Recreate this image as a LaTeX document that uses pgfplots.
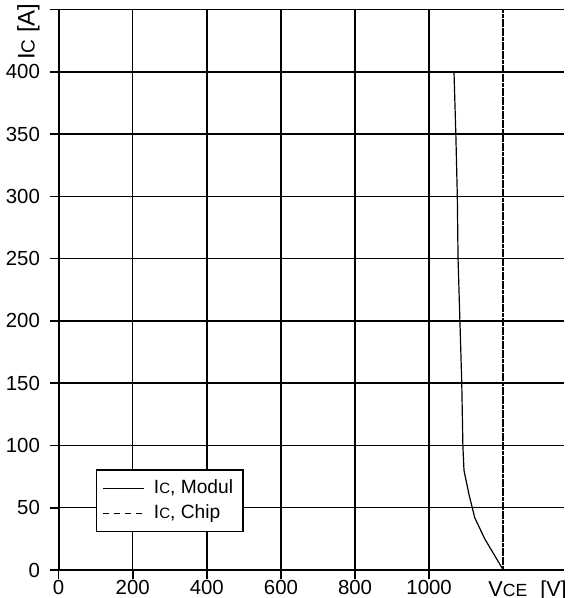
\documentclass[border=0pt]{standalone}
\usepackage{fontspec}
\setmainfont{Liberation Sans}
\usepackage{pgfplots}
\pgfplotsset{compat=1.18}
\begin{document}
\begin{tikzpicture}
\path[use as bounding box] (-29.3pt,-14pt) rectangle (256.2pt,285pt);
\begin{axis}[
  at={(0,0)}, anchor=south west,
  scale only axis,
  width=252.9pt, height=280.25pt,
  xmin=0, xmax=1365, ymin=0, ymax=450,
  axis lines=left,
  axis line style={-, line width=1pt},
  xtick={0,200,400,600,800,1000},
  ytick={0,50,100,150,200,250,300,350,400,450},
  yticklabels={0,50,100,150,200,250,300,350,400,},
  tick align=outside,
  major tick length=4.3pt,
  tick style={black, line width=0.8pt},
  grid=major,
  major grid style={black, line width=0.75pt},
  ticklabel style={font=\fontsize{10.2}{12}\selectfont},
  /pgf/number format/assume math mode=true,
  /pgf/number format/1000 sep={},
  yticklabel style={xshift=-1.5pt},
  xticklabel style={yshift=2.5pt},
  clip=false,
  legend style={at={(0.074,0.18)}, anchor=north west, draw=black, line width=0.7pt,
    fill=white, font=\fontsize{9.6}{11}\selectfont, inner xsep=3pt, inner ysep=3pt,
    row sep=0pt, /tikz/every odd column/.append style={column sep=2.5pt}},
  legend cell align=left,
]
\addplot[black, line width=0.6pt, legend image code/.code={\draw[black, line width=0.6pt] (0pt,0pt) -- (20.5pt,0pt);}] coordinates {
(1067,400) (1072,350) (1076,300) (1078,250) (1083,200) (1088,150) (1091,100) (1094,80)
(1108,60) (1123,42) (1150,25) (1170,15) (1190,5) (1200,0)
};
\addlegendentry{I{\fontsize{7.5}{8}\selectfont C}, Modul}
\addplot[black, line width=0.8pt, dash pattern=on 2pt off 0.3pt, legend image code/.code={\draw[black, line width=0.6pt, dash pattern=on 3pt off 2.5pt] (0pt,0pt) -- (20.5pt,0pt);}] coordinates {
(1200,0) (1200,450)
};
\addlegendentry{I{\fontsize{7.5}{8}\selectfont C}, Chip}
\node[anchor=north west, inner sep=0pt, font=\fontsize{10.8}{12}\selectfont] at ([xshift=-7.6pt, yshift=-5pt]axis cs:1200,0) {V{\fontsize{8.8}{9}\selectfont CE}\hspace{6.5pt}[V]};
\node[rotate=90, anchor=south east, inner sep=0pt, font=\fontsize{12}{14}\selectfont] at ([xshift=-9.3pt, yshift=3.2pt]axis cs:0,450) {I{\fontsize{9.5}{10}\selectfont C} [A]};
\end{axis}
\end{tikzpicture}
\end{document}
